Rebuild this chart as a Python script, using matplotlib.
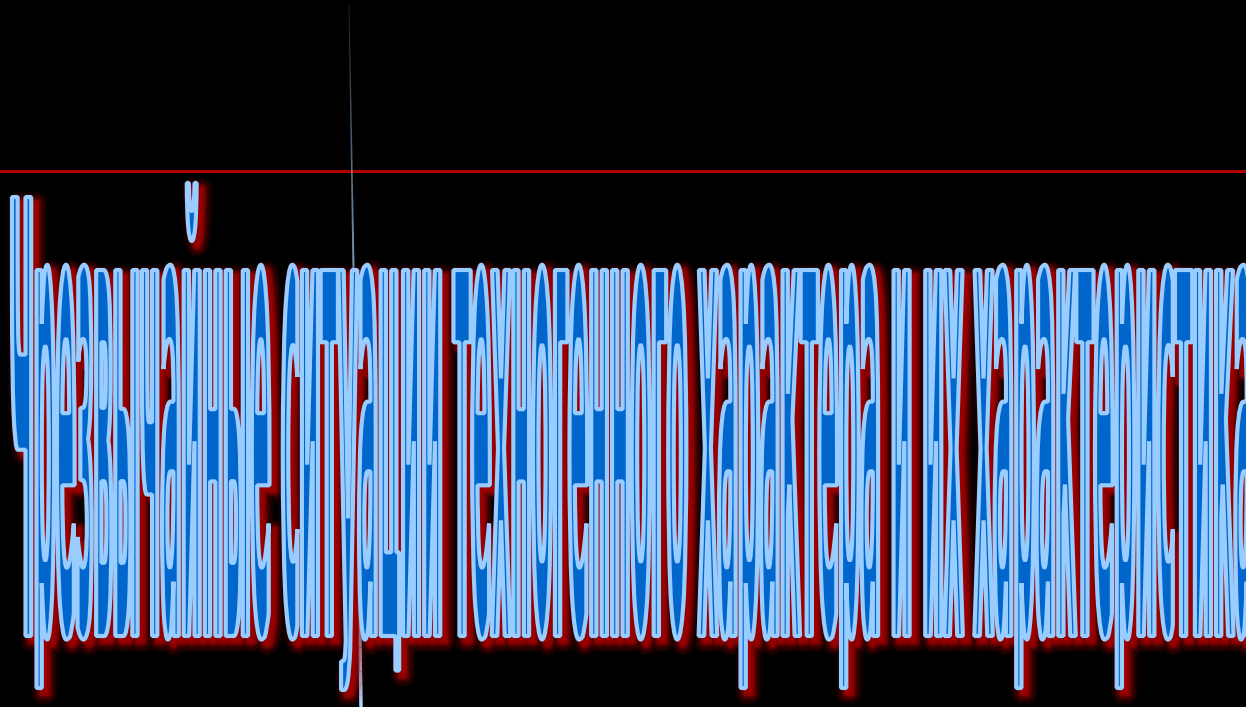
import matplotlib
matplotlib.use("Agg")  # headless
import matplotlib.pyplot as plt
import matplotlib.patheffects as pe
import numpy as np
from matplotlib.font_manager import FontProperties
from matplotlib.patches import PathPatch, Rectangle
from matplotlib.path import Path
from matplotlib.textpath import TextPath

# ---- data ----
title_text = "Чрезвычайные ситуации техногенного характера и их характеристика"
text_left, text_right = 12, 1252        # pixel columns spanned by the lettering
baseline_row = 636                      # pixel rows of the font's guide lines
xheight_row = 270
cap_row = 197
descender_row = 688
rule_row = 171                          # red horizontal rule
streak_x = [349, 361]                   # thin light streak through "ситуации"
streak_y = [5, 707]

W, H = 1246, 707

fp = FontProperties(family=["Liberation Sans Narrow", "DejaVu Sans"], weight="bold")


def glyph_metric(s, which):
    ext = TextPath((0, 0), s, size=1, prop=fp).get_extents()
    return ext.y1 if which == "top" else ext.y0


x_height = glyph_metric("x", "top")
cap_height = glyph_metric("Ч", "top")
descender = glyph_metric("р", "bottom")

tp = TextPath((0, 0), title_text, size=1, prop=fp)
verts = tp.vertices.copy()
ext = tp.get_extents()

# horizontal: plain stretch to the span of the lettering
verts[:, 0] = text_left + (verts[:, 0] - ext.x0) * (text_right - text_left) / (ext.x1 - ext.x0)

# vertical: piecewise stretch between the font's guide lines
lv = [descender, 0.0, x_height, cap_height]
rows = [descender_row, baseline_row, xheight_row, cap_row]
y = verts[:, 1]
ynew = np.interp(y, lv, rows)
top_slope = (cap_row - xheight_row) / (cap_height - x_height)
ynew = np.where(y > cap_height, cap_row + (y - cap_height) * top_slope, ynew)
bot_slope = (baseline_row - descender_row) / (0 - descender)
ynew = np.where(y < descender, descender_row + (y - descender) * bot_slope, ynew)
verts[:, 1] = ynew
text_path = Path(verts, tp.codes)

fig = plt.figure(figsize=(W / 100, H / 100), dpi=100, facecolor="black")
ax = fig.add_axes([0, 0, 1, 1])
ax.set_facecolor("black")
ax.set_xlim(0, W)
ax.set_ylim(H, 0)
ax.axis("off")

ax.axhline(rule_row, color="#b00000", lw=2.2, zorder=1)

# faint streak, fading out toward the top
n = 60
sx = np.linspace(streak_x[0], streak_x[1], n)
sy = np.linspace(streak_y[0], streak_y[1], n)
for i in range(n - 1):
    a = min(1.0, 0.15 + 1.6 * i / n)
    ax.plot(sx[i:i + 2], sy[i:i + 2], color="#a8d4ff", lw=0.8 + 1.8 * i / n,
            alpha=a, solid_capstyle="butt", zorder=2)

# soft dark-red glow below/right of the lettering
glow = [pe.SimplePatchShadow(offset=(4, -4), shadow_rgbFace="#a00000", alpha=a,
                             linewidth=w, foreground="#a00000", joinstyle="round")
        for w, a in [(15, 0.12), (11, 0.2), (7, 0.35), (4, 0.65)]]
patch = PathPatch(text_path, facecolor="#0066cc", edgecolor="#99ccff", lw=3.0,
                  joinstyle="bevel", zorder=3, path_effects=glow + [pe.Normal()])
ax.add_patch(patch)
clip = Rectangle((0, rule_row + 1), W, H, transform=ax.transData)
patch.set_clip_path(clip)

fig.savefig("out.png", dpi=100, facecolor="black")
plt.close(fig)
